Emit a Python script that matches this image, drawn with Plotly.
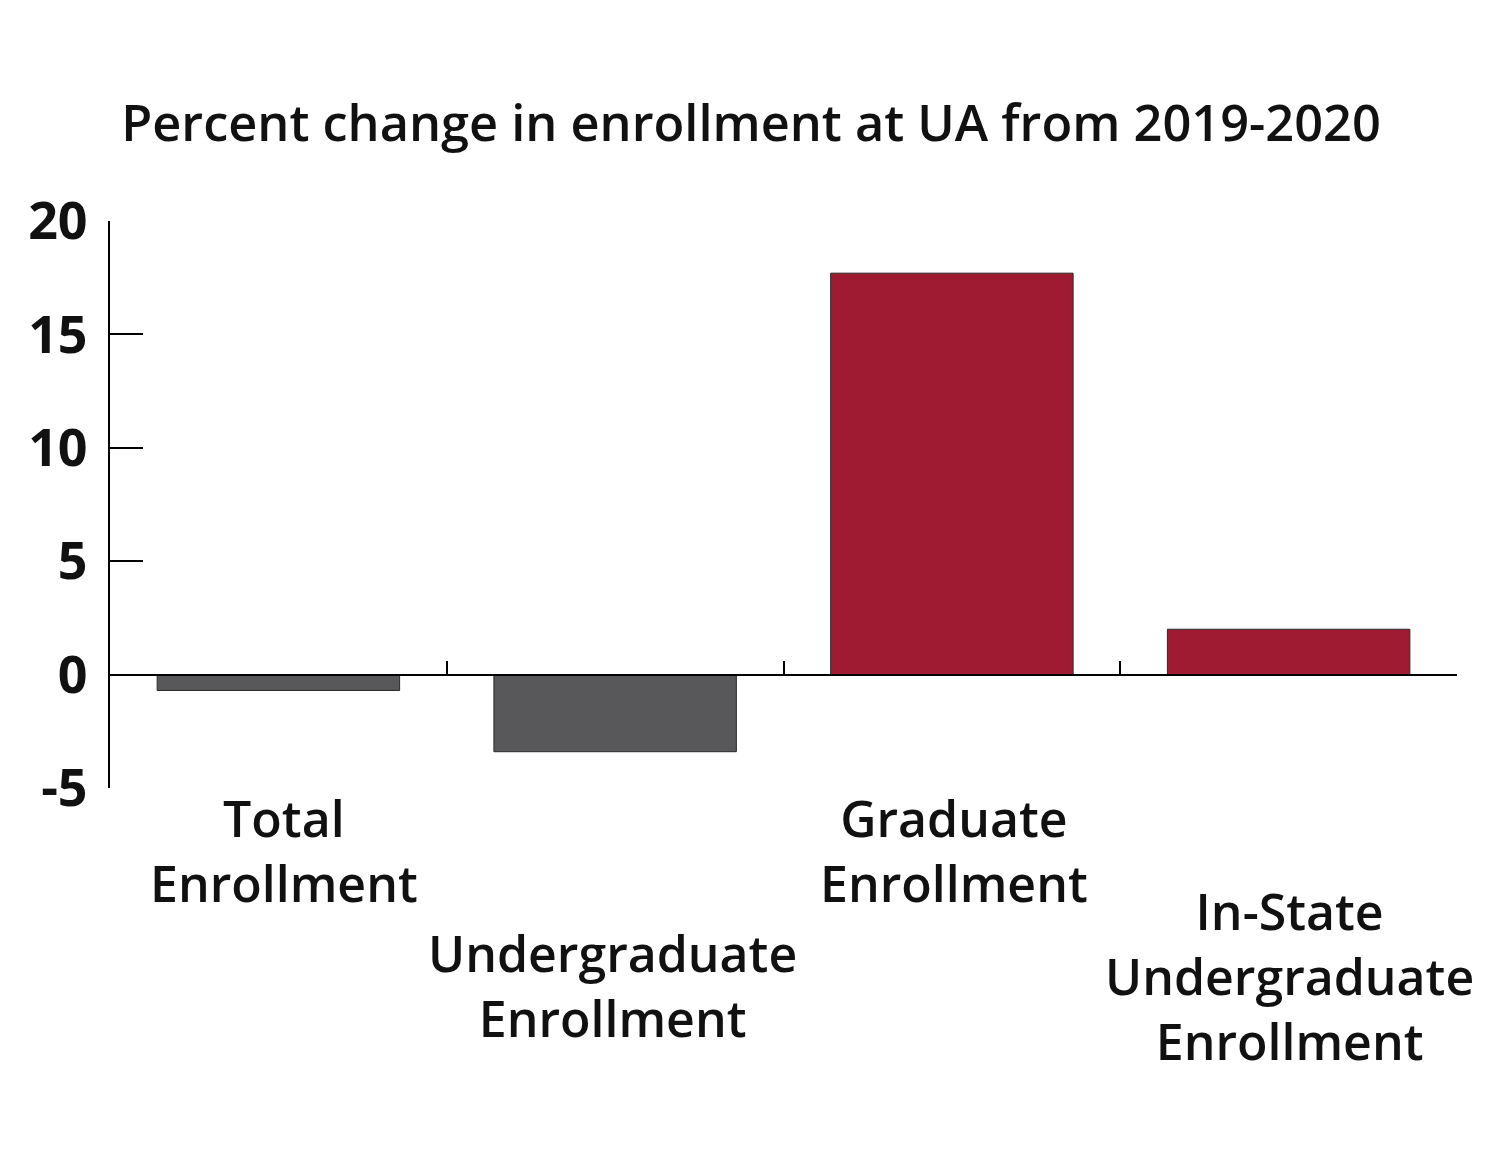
import plotly.graph_objects as go

# data
categories = ["Total", "Undergrad", "Graduate", "InState"]
category_labels = [
    "Total<br>Enrollment",
    "Undergraduate<br>Enrollment",
    "Graduate<br>Enrollment",
    "In-State<br>Undergraduate<br>Enrollment",
]
pct_change = [-0.7, -3.4, 17.7, 2.0]
y_ticks = [-5, 0, 5, 10, 15, 20]
y_tick_text = ["-5", "0", "5", "10", "15", "20"]

GRAY = "#58585a"
CRIMSON = "#9e1b32"
FONT = "Open Sans"

colors = [CRIMSON if v > 0 else GRAY for v in pct_change]

fig = go.Figure()
fig.add_trace(go.Bar(
    x=categories,
    y=pct_change,
    width=0.72,
    marker=dict(color=colors, line=dict(color="#2a2a2a", width=1)),
    hoverinfo="x+y",
))

# category labels sit at different heights below the plot
label_yshift = [6, -129, 6, -87]
label_xshift = [6, -3, 2, 1]
for cat, text, ys, xs in zip(categories, category_labels, label_yshift, label_xshift):
    fig.add_annotation(
        x=cat, y=0, yref="paper", xref="x",
        text=text, showarrow=False,
        yanchor="top", xanchor="center",
        yshift=ys, xshift=xs,
        align="center",
        font=dict(family=FONT, size=50, color="#111", weight=600),
    )

# the page body adds an 8px offset, so margins are trimmed to match
fig.update_layout(
    width=1501, height=1160,
    paper_bgcolor="white", plot_bgcolor="white",
    margin=dict(l=102, r=52, t=213, b=380, autoexpand=False),
    showlegend=False,
    title=dict(
        text="Percent change in enrollment at UA from 2019-2020",
        x=743 / 1501, xanchor="center", y=1 - 115 / 1160, yanchor="middle",
        font=dict(family=FONT, size=50.5, color="#111", weight=600),
    ),
    xaxis=dict(
        range=[-0.5, 3.5],
        showline=True, linecolor="black", linewidth=2,
        ticks="inside", tickson="boundaries", ticklen=13, tickwidth=2,
        tickcolor="black",
        showticklabels=False, showgrid=False, zeroline=False,
        anchor="free", position=0.2,
    ),
    yaxis=dict(
        range=[-5, 20],
        tickvals=y_ticks, ticktext=y_tick_text,
        showline=True, linecolor="black", linewidth=2,
        ticks="inside", ticklen=33, tickwidth=2, tickcolor="black",
        showgrid=False, zeroline=False,
        ticklabelstandoff=10,
        tickfont=dict(family=FONT, size=52, color="#111", weight="bold"),
    ),
)

fig.write_html("out.html")
